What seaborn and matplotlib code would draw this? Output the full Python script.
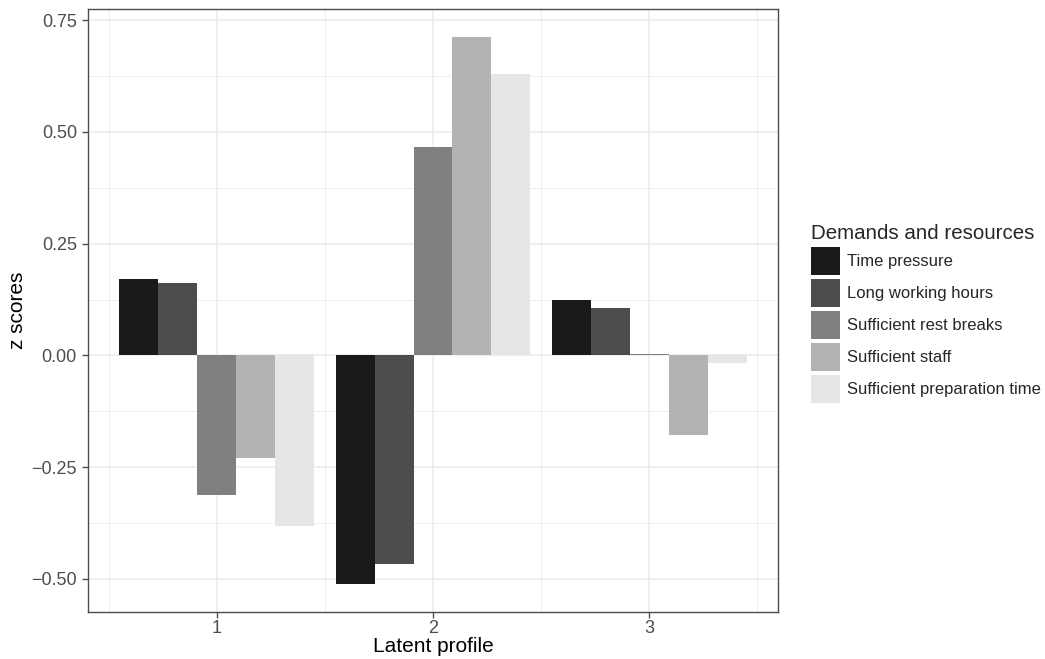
import numpy as np
import pandas as pd
import matplotlib
matplotlib.use("Agg")
import matplotlib.pyplot as plt
import seaborn as sns

#%% data
profiles = [1, 2, 3]
indicators = ["Time pressure", "Long working hours", "Sufficient rest breaks",
              "Sufficient staff", "Sufficient preparation time"]
time_pressure = [0.172, -0.511, 0.125]
long_hours = [0.163, -0.466, 0.107]
rest_breaks = [-0.313, 0.466, 0.004]
staff = [-0.230, 0.713, -0.177]
prep_time = [-0.382, 0.629, -0.018]
greys = ["#1a1a1a", "#4d4d4d", "#808080", "#b3b3b3", "#e6e6e6"]

series = [time_pressure, long_hours, rest_breaks, staff, prep_time]
df = pd.DataFrame({
    "profile": profiles * len(indicators),
    "indicator": np.repeat(indicators, len(profiles)),
    "z": np.concatenate(series),
})

#%% plot
sns.set_theme(style="white")
plt.rcParams["font.family"] = ["Liberation Sans", "DejaVu Sans"]

fig = plt.figure(figsize=(10.45, 6.59), dpi=100)
ax = fig.add_axes([0.0842, 0.0713, 0.6603, 0.915])

sns.barplot(data=df, x="profile", y="z", hue="indicator", hue_order=indicators,
            palette=greys, native_scale=True, width=0.9, linewidth=0,
            saturation=1, errorbar=None, ax=ax, zorder=3)

ax.set_xlim(0.405, 3.595)
ax.set_ylim(-0.574, 0.775)
ax.set_xticks(profiles)
ax.set_xticklabels([str(p) for p in profiles])
ax.set_xticks([0.5, 1.5, 2.5, 3.5], minor=True)
ax.set_yticks([-0.5, -0.25, 0, 0.25, 0.5, 0.75])
ax.set_yticklabels(["\u22120.50", "\u22120.25", "0.00", "0.25", "0.50", "0.75"])
ax.set_yticks([-0.375, -0.125, 0.125, 0.375, 0.625], minor=True)

ax.grid(which="major", color="#ebebeb", linewidth=1.1, zorder=0)
ax.grid(which="minor", color="#ebebeb", linewidth=0.6, zorder=0)
ax.set_axisbelow(True)
for s in ax.spines.values():
    s.set_visible(True)
    s.set_color("#4d4d4d")
    s.set_linewidth(1.0)

ax.tick_params(which="major", length=4, width=1, color="#4d4d4d",
               labelsize=13, labelcolor="#4d4d4d", bottom=True, left=True, pad=4)
ax.tick_params(axis="x", which="major", pad=2)
ax.tick_params(which="minor", length=0)

ax.set_xlabel("Latent profile", fontsize=15, color="black", labelpad=0)
ax.set_ylabel("z scores", fontsize=15, color="black", labelpad=3)

sns.move_legend(ax, loc="upper left", bbox_to_anchor=(0.776, 0.660),
                bbox_transform=fig.transFigure, frameon=False,
                title="Demands and resources", title_fontsize=14.8, fontsize=12,
                handlelength=1.74, handleheight=2.21, labelspacing=0.24,
                handletextpad=0.45, borderaxespad=0, borderpad=0,
                alignment="left")

plt.savefig("out.png", dpi=100)
